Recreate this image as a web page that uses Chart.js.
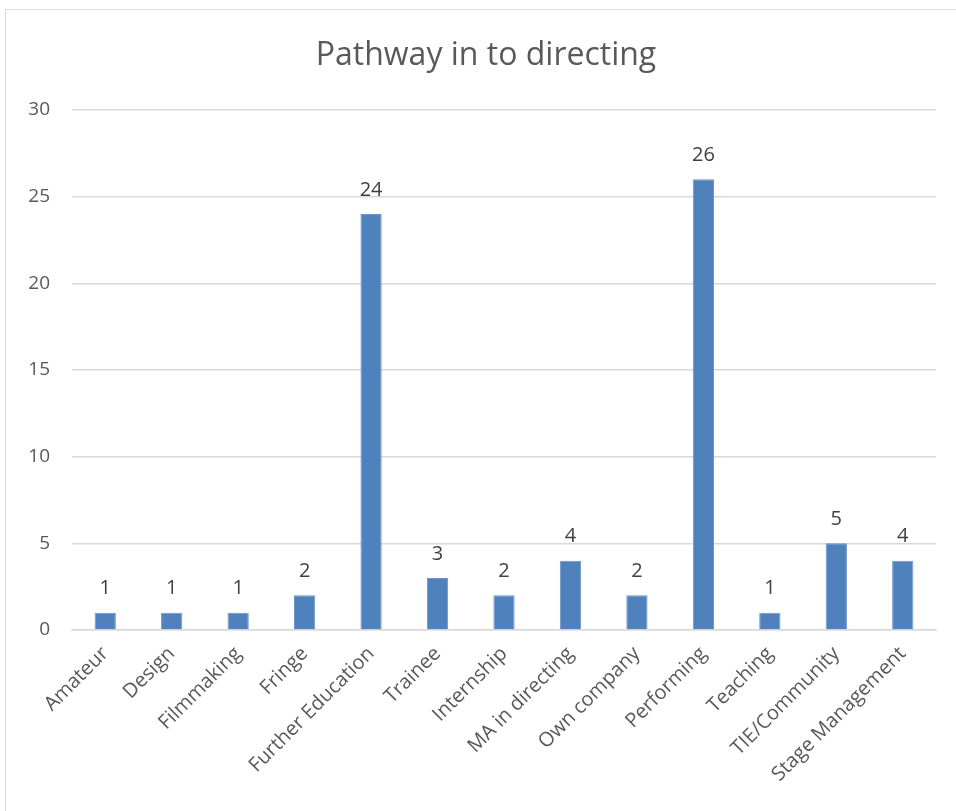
<!DOCTYPE html>
<html>
<head>
<meta charset="utf-8">
<script src="https://cdn.jsdelivr.net/npm/chart.js@4"></script>
<style>
  html, body { margin: 0; padding: 0; background: #fff; }
  #wrap { position: relative; width: 956px; height: 811px; overflow: hidden; }
  #frame { position: absolute; left: 5px; top: 9px; width: 970px; height: 830px; border: 1px solid #d9d9d9; box-sizing: border-box; }
  canvas { position: absolute; left: 0; top: 0; }
</style>
</head>
<body>
<div id="wrap">
  <div id="frame"></div>
  <canvas id="chart" width="956" height="811"></canvas>
</div>
<script>
// Datos del gráfico
const chartTitle = 'Pathway in to directing';
const categories = ['Amateur', 'Design', 'Filmmaking', 'Fringe', 'Further Education', 'Trainee',
    'Internship', 'MA in directing', 'Own company', 'Performing', 'Teaching', 'TIE/Community', 'Stage Management'];
const counts = [1, 1, 1, 2, 24, 3, 2, 4, 2, 26, 1, 5, 4];
const yTicks = [0, 5, 10, 15, 20, 25, 30];

const FONT = "'Open Sans', 'Liberation Sans', sans-serif";

// Título centrado sobre el marco completo (que sigue más allá del borde derecho)
const frameTitle = {
    id: 'frameTitle',
    afterDraw(chart) {
        const ctx = chart.ctx;
        ctx.save();
        ctx.fillStyle = '#595959';
        ctx.font = '32px ' + FONT;
        ctx.textAlign = 'center';
        ctx.textBaseline = 'middle';
        ctx.fillText(chartTitle, 486, 56);
        ctx.restore();
    }
};

// Etiquetas de valor encima de cada barra
const valueLabels = {
    id: 'valueLabels',
    afterDatasetsDraw(chart) {
        const ctx = chart.ctx;
        const meta = chart.getDatasetMeta(0);
        ctx.save();
        ctx.fillStyle = '#404040';
        ctx.font = '20px ' + FONT;
        ctx.textAlign = 'center';
        ctx.textBaseline = 'bottom';
        meta.data.forEach((bar, i) => {
            ctx.fillText(String(counts[i]), bar.x, bar.y - 14);
        });
        ctx.restore();
    }
};

new Chart(document.getElementById('chart'), {
    type: 'bar',
    data: {
        labels: categories,
        datasets: [{
            data: counts,
            backgroundColor: '#4F81BD',
            borderColor: '#6A95C9',
            borderWidth: 1,
            barPercentage: 0.32,
            categoryPercentage: 1
        }]
    },
    options: {
        responsive: false,
        animation: false,
        layout: { padding: { top: 110, right: 20, left: 0, bottom: 0 } },
        plugins: {
            legend: { display: false },
            tooltip: { enabled: false },
            title: { display: false }
        },
        scales: {
            x: {
                grid: { display: false, drawTicks: false },
                border: { display: true, color: '#d9d9d9', width: 1.5 },
                ticks: {
                    color: '#595959',
                    font: { family: FONT, size: 20 },
                    maxRotation: 45,
                    minRotation: 45,
                    autoSkip: false,
                    padding: 12
                },
                afterFit(scale) { scale.height = 181; }
            },
            y: {
                min: 0,
                max: 30,
                afterBuildTicks(scale) { scale.ticks = yTicks.map(v => ({ value: v })); },
                grid: { color: '#d9d9d9', lineWidth: 1.5, drawTicks: false },
                border: { display: false },
                ticks: {
                    color: '#595959',
                    font: { family: FONT, size: 19 },
                    padding: 22
                },
                afterFit(scale) { scale.width = 72; }
            }
        }
    },
    plugins: [valueLabels, frameTitle]
});
</script>
</body>
</html>
